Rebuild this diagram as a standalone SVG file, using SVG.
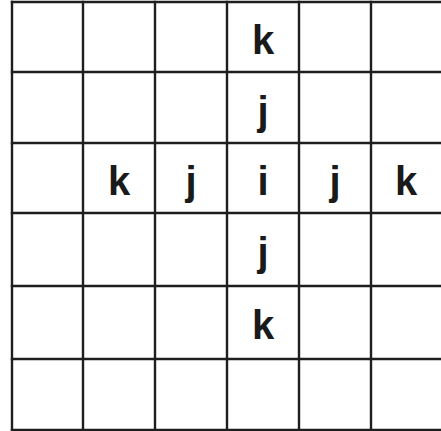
<svg xmlns="http://www.w3.org/2000/svg" width="441" height="431" viewBox="0 0 441 431">
<style>
.g line{stroke:#1e1e1e;stroke-width:2.4;stroke-linecap:square}
.t{font-family:"Liberation Sans",Arial,sans-serif;font-weight:bold;font-size:40px;fill:#1a1a1a;text-anchor:middle}
</style>
<rect width="441" height="431" fill="#fff"/>
<g id="grid" class="g">
<line x1="12" y1="2" x2="441" y2="2"/>
<line x1="12" y1="72" x2="441" y2="72"/>
<line x1="12" y1="143" x2="441" y2="143"/>
<line x1="12" y1="213" x2="441" y2="213"/>
<line x1="12" y1="286" x2="441" y2="286"/>
<line x1="12" y1="359" x2="441" y2="359"/>
<line x1="12" y1="430" x2="441" y2="430"/>
<line x1="12" y1="2" x2="12" y2="430"/>
<line x1="83" y1="2" x2="83" y2="430"/>
<line x1="155" y1="2" x2="155" y2="430"/>
<line x1="227" y1="2" x2="227" y2="430"/>
<line x1="299" y1="2" x2="299" y2="430"/>
<line x1="371" y1="2" x2="371" y2="430"/>
</g>
<g id="c-r1" ><text class="t" x="263" y="54">k</text></g>
<g id="c-r2"><text class="t" x="263" y="125">j</text></g>
<g id="c-r3c2"><text class="t" x="119" y="195">k</text></g>
<g id="c-r3c3"><text class="t" x="191" y="195">j</text></g>
<g id="c-r3c4"><text class="t" x="263" y="195">i</text></g>
<g id="c-r3c5"><text class="t" x="335" y="195">j</text></g>
<g id="c-r3c6"><text class="t" x="406" y="195">k</text></g>
<g id="c-r4"><text class="t" x="263" y="266">j</text></g>
<g id="c-r5"><text class="t" x="263" y="339">k</text></g>
</svg>
